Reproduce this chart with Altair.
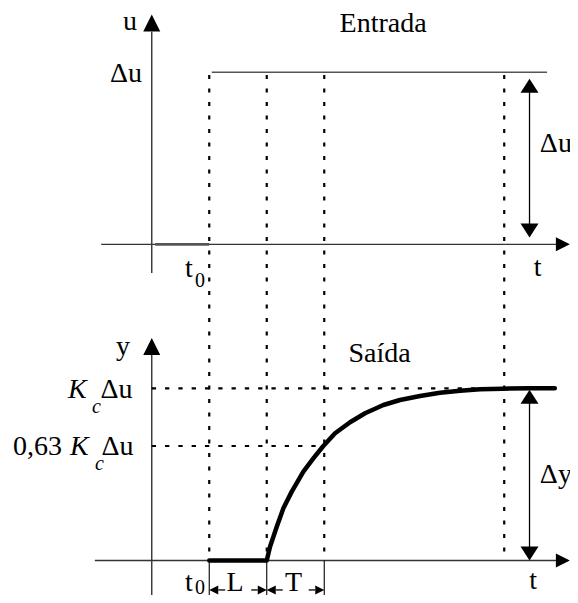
import altair as alt
import pandas as pd

# ---- diagram coordinates (time axis origin = 0, t0 = 1, L = 1, T = 1) ----
X_DOMAIN = [-2.5, 7.274]
Y_DOMAIN = [-0.2003, 3.2085]

U_BASE = 1.836      # baseline of the input (Entrada) panel
DU = 1.0            # step amplitude
Y63 = 0.665         # position of the 0,63 Kc du guide as drawn
T_GUIDES = [1.0, 2.0, 3.0, 6.13]
T_ARROW = 6.57

# response curve (Saída)
CURVE_T = [1.0, 2.0, 2.057, 2.174, 2.289, 2.435, 2.637, 2.810, 2.984, 3.188, 3.449,
           3.710, 4.028, 4.318, 4.666, 5.014, 5.362, 5.710, 6.110, 6.58, 7.01]
CURVE_Y = [0.0, 0.0, 0.080, 0.196, 0.303, 0.400, 0.516, 0.593, 0.665, 0.739, 0.803,
           0.855, 0.903, 0.932, 0.955, 0.974, 0.986, 0.994, 0.998, 1.0, 1.0]

# axes lines
AXIS_X1 = [0.0, 0.0, -0.88, -0.99]
AXIS_X2 = [0.0, 0.0, 7.2, 7.2]
AXIS_Y1 = [1.67, -0.25, U_BASE, 0.0]
AXIS_Y2 = [3.071, 1.193, U_BASE, 0.0]

# labels
C_TEXT = ["Entrada", "Saída", "t", "t", "L", "T"]
C_X = [4.023, 3.962, 6.71, 6.631, 1.449, 2.466]
C_Y = [3.071, 1.155, 1.652, -0.166, -0.178, -0.178]

R_TEXT = ["u", "Δu", "y"]
R_X = [-0.256, -0.169, -0.377]
R_Y = [3.081, 2.779, 1.193]

L_TEXT = ["Δu", "Δy", "t", "t", "Δu", "Δu", "0,63"]
L_X = [6.75, 6.75, 0.579, 0.579, -0.89, -0.873, -2.412]
L_Y = [2.372, 0.450, 1.646, -0.178, 0.944, 0.613, 0.613]

K_TEXT = ["K", "K"]
K_X = [-1.456, -1.421]
K_Y = [0.944, 0.613]

SUBC_TEXT = ["c", "c"]
SUBC_X = [-1.037, -0.985]
SUBC_Y = [0.857, 0.526]

SUB0_TEXT = ["0", "0"]
SUB0_X = [0.753, 0.753]
SUB0_Y = [1.588, -0.196]

FONT = "Liberation Serif"

xs = alt.Scale(domain=X_DOMAIN, nice=False, zero=False)
ys = alt.Scale(domain=Y_DOMAIN, nice=False, zero=False)
X = lambda f="x": alt.X(f"{f}:Q", scale=xs, axis=None)
Y = lambda f="y": alt.Y(f"{f}:Q", scale=ys, axis=None)


def seg_df(x1, x2, y1, y2):
    return pd.DataFrame({"x": x1, "x2": x2, "y": y1, "y2": y2})


def rules(df, **kw):
    return alt.Chart(df).mark_rule(**kw).encode(
        x=X(), x2="x2:Q", y=Y(), y2="y2:Q")


def pts(xv, yv, shape, size):
    df = pd.DataFrame({"x": xv, "y": yv})
    return alt.Chart(df).mark_point(shape=shape, size=size, filled=True,
                                    color="black", opacity=1).encode(x=X(), y=Y())


def texts(t, xv, yv, align, size, style="normal"):
    df = pd.DataFrame({"x": xv, "y": yv, "t": t})
    return alt.Chart(df).mark_text(align=align, baseline="alphabetic", font=FONT,
                                   fontSize=size, fontStyle=style,
                                   color="black").encode(x=X(), y=Y(), text="t:N")


axes = rules(seg_df(AXIS_X1, AXIS_X2, AXIS_Y1, AXIS_Y2), color="#333", strokeWidth=1.4)

step_top = rules(seg_df([1.043], [6.875], [U_BASE + DU], [U_BASE + DU]),
                 color="#555", strokeWidth=1.5)
step_zero = rules(seg_df([0.06], [1.0], [U_BASE], [U_BASE]),
                  color="#555", strokeWidth=2.6)

v_dots = rules(seg_df(T_GUIDES, T_GUIDES, [2.82] * 4, [0.0] * 4),
               color="black", strokeWidth=2.2, strokeDash=[4, 9.5])
h_dots = rules(seg_df([0.0, 0.0], [7.0, 3.0], [1.0, Y63], [1.0, Y63]),
               color="black", strokeWidth=2.2, strokeDash=[4.3, 9])

ticks = rules(seg_df([1.0, 2.0, 3.0], [1.0, 2.0, 3.0], [0.0] * 3, [-0.26] * 3),
              color="black", strokeWidth=1.1)

curve = alt.Chart(pd.DataFrame({"x": CURVE_T, "y": CURVE_Y})).mark_line(
    color="black", strokeWidth=4.5, strokeCap="round", strokeJoin="round").encode(
    x=X(), y=Y(), order="x:Q")

delta_lines = rules(seg_df([T_ARROW, T_ARROW], [T_ARROW, T_ARROW],
                           [2.75, 0.95], [1.92, 0.04]),
                    color="black", strokeWidth=1.3)

lt_lines = rules(seg_df([1.157, 1.73, 2.157, 2.73], [1.278, 1.843, 2.278, 2.843],
                        [-0.171] * 4, [-0.171] * 4),
                 color="black", strokeWidth=1.3)

UP = "M-1,1L1,1L0,-1Z"
RIGHT = "M-1,-1L1,0L-1,1Z"
D_UP = "M-1,0.78L1,0.78L0,-0.78Z"
D_DOWN = "M-1,-0.78L1,-0.78L0,0.78Z"
LEFT = "M1,-1L-1,0L1,1Z"

heads = [
    pts([0.0, 0.0], [3.121, 1.243], UP, 289),
    pts([7.15, 7.15], [U_BASE, 0.0], RIGHT, 196),
    pts([T_ARROW, T_ARROW], [2.757, 0.951], D_UP, 324),
    pts([T_ARROW, T_ARROW], [1.916, 0.041], D_DOWN, 324),
    pts([1.078, 2.078], [-0.171, -0.171], LEFT, 81),
    pts([1.922, 2.922], [-0.171, -0.171], RIGHT, 81),
]

labels = [
    texts(C_TEXT, C_X, C_Y, "center", 28),
    texts(R_TEXT, R_X, R_Y, "right", 28),
    texts(L_TEXT, L_X, L_Y, "left", 28),
    texts(K_TEXT, K_X, K_Y, "left", 28, "italic"),
    texts(SUBC_TEXT, SUBC_X, SUBC_Y, "left", 20, "italic"),
    texts(SUB0_TEXT, SUB0_X, SUB0_Y, "left", 20),
]

chart = alt.layer(axes, step_zero, step_top, v_dots, h_dots, ticks, curve,
                  delta_lines, lt_lines, *heads, *labels).properties(
    width=562, height=587, padding=0,
    autosize=alt.AutoSizeParams(type="none"),
).configure_view(stroke=None)

chart.save("out.html", embed_options={"renderer": "svg", "actions": False})
